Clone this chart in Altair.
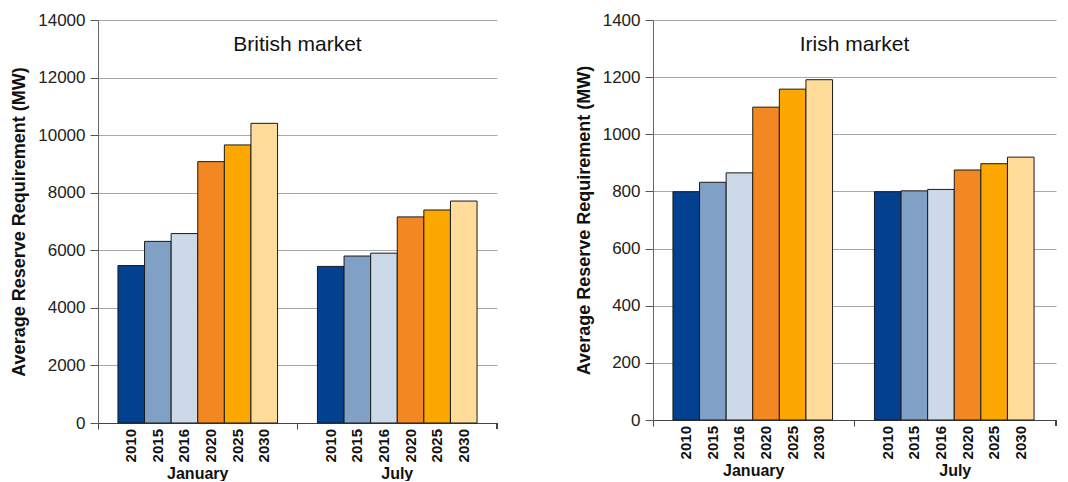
import altair as alt
import pandas as pd

months = ["January", "July"]
years = ["2010", "2015", "2016", "2020", "2025", "2030"]
british_jan = [5470, 6310, 6580, 9080, 9660, 10410]
british_jul = [5440, 5800, 5900, 7160, 7400, 7710]
irish_jan = [799, 832, 865, 1095, 1158, 1191]
irish_jul = [799, 802, 807, 875, 897, 920]
colors = ["#034090", "#80A0C6", "#CCD9E9", "#F38722", "#FDA800", "#FFDC9A"]

FONT = "Liberation Sans"


def make_df(jan, jul):
    rows = []
    for m, vals in zip(months, [jan, jul]):
        for y, v in zip(years, vals):
            rows.append({"month": m, "year": y, "value": v})
    return pd.DataFrame(rows)


def panel(df, title, ymax, step, width, height):
    base = alt.Chart(df)
    xenc = alt.X(
        "month:N",
        sort=months,
        scale=alt.Scale(paddingInner=0, paddingOuter=0),
        axis=alt.Axis(
            title=None,
            labelAngle=0,
            labelFont=FONT,
            labelFontWeight="bold",
            labelFontSize=16,
            labelColor="#111111",
            labelPadding=36,
            bandPosition=0,
            ticks=True,
            tickSize=6,
            tickColor="#444444",
            domainColor="#444444",
            grid=False,
        ),
    )
    xoff = alt.XOffset(
        "year:N", sort=years, scale=alt.Scale(paddingOuter=0.75, paddingInner=0)
    )
    bars = base.mark_bar(stroke="#1a1a1a", strokeWidth=1).encode(
        x=xenc,
        xOffset=xoff,
        y=alt.Y(
            "value:Q",
            scale=alt.Scale(domain=[0, ymax], nice=False),
            axis=alt.Axis(
                title="Average Reserve Requirement (MW)",
                titleFont=FONT,
                titleFontSize=18,
                titleFontWeight="bold",
                titleColor="#111111",
                titlePadding=9,
                values=list(range(0, ymax + 1, step)),
                format="d",
                labelFont=FONT,
                labelFontSize=17,
                labelColor="#222222",
                labelPadding=5,
                tickSize=8,
                tickColor="#555555",
                domainColor="#666666",
                gridColor="#a6a6a6",
                gridWidth=1,
            ),
        ),
        color=alt.Color(
            "year:N", sort=years, scale=alt.Scale(domain=years, range=colors), legend=None
        ),
    )
    labels = base.mark_text(
        angle=270,
        align="right",
        baseline="middle",
        font=FONT,
        fontWeight="bold",
        fontSize=15,
        color="#111111",
        dx=-6,
    ).encode(
        x=alt.X("month:N", sort=months),
        xOffset=alt.XOffset("year:N", sort=years),
        y=alt.datum(0),
        text="year:N",
    )
    endtick = alt.Chart(df).mark_rule(color="#444444").encode(
        x=alt.value(width), y=alt.value(height), y2=alt.value(height + 6)
    )
    return alt.layer(bars, labels, endtick).properties(
        width=width,
        height=height,
        title=alt.TitleParams(
            title,
            font=FONT,
            fontSize=21,
            fontWeight="normal",
            color="#111111",
            anchor="middle",
            baseline="bottom",
            offset=-65,
        ),
    )


left = panel(make_df(british_jan, british_jul), "British market", 14000, 2000, 399, 403)
right = panel(make_df(irish_jan, irish_jul), "Irish market", 1400, 200, 403, 400)

chart = (
    alt.hconcat(left, right, spacing=77)
    .properties(padding={"left": 2, "top": 3, "right": 0, "bottom": 0})
    .configure_view(stroke=None)
)

chart.save("out.html", embed_options={"renderer": "svg", "actions": False})
